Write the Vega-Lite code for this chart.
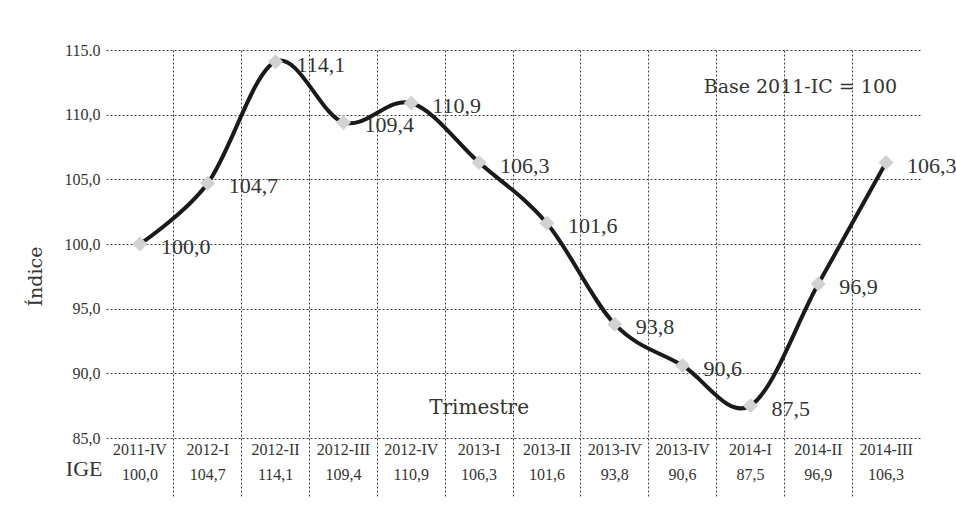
{
  "$schema": "https://vega.github.io/schema/vega-lite/v6.json",
  "width": 814,
  "height": 388,
  "autosize": {"type": "none"},
  "padding": {"left": 106, "top": 50, "right": 36, "bottom": 75},
  "background": "white",
  "config": {
    "view": {"stroke": null},
    "locale": {"number": {"decimal": ",", "thousands": ".", "grouping": [3], "currency": ["", " €"]}}
  },
  "data": {"values": [
    {"n": 1, "periodo": "2011-IV", "indice": 100.0},
    {"n": 2, "periodo": "2012-I", "indice": 104.7},
    {"n": 3, "periodo": "2012-II", "indice": 114.1},
    {"n": 4, "periodo": "2012-III", "indice": 109.4},
    {"n": 5, "periodo": "2012-IV", "indice": 110.9},
    {"n": 6, "periodo": "2013-I", "indice": 106.3},
    {"n": 7, "periodo": "2013-II", "indice": 101.6},
    {"n": 8, "periodo": "2013-IV", "indice": 93.8},
    {"n": 9, "periodo": "2013-IV", "indice": 90.6},
    {"n": 10, "periodo": "2014-I", "indice": 87.5},
    {"n": 11, "periodo": "2014-II", "indice": 96.9},
    {"n": 12, "periodo": "2014-III", "indice": 106.3}
  ]},
  "encoding": {
    "x": {
      "field": "n", "type": "ordinal",
      "scale": {"type": "band", "paddingInner": 0, "paddingOuter": 0},
      "axis": {
        "title": "IGE", "titleX": -4, "titleY": 30, "titleAlign": "right", "titleBaseline": "middle",
        "titleAngle": 0, "titleFont": "Liberation Serif", "titleFontSize": 22, "titleFontWeight": "normal", "titleColor": "#333333",
        "labels": false, "domain": false, "bandPosition": 0,
        "ticks": true, "tickSize": 60, "tickDash": [2, 2], "tickColor": "#444444", "tickWidth": 1,
        "tickOpacity": {"condition": {"test": "datum.index == 0", "value": 0}, "value": 1},
        "grid": true, "gridDash": [2, 2], "gridColor": "#444444", "gridWidth": 1,
        "gridOpacity": {"condition": {"test": "datum.index == 0", "value": 0}, "value": 1}
      }
    }
  },
  "layer": [
    {
      "mark": {"type": "line", "interpolate": "cardinal", "color": "#1a1a1a", "strokeWidth": 4},
      "encoding": {
        "y": {
          "field": "indice", "type": "quantitative",
          "scale": {"domain": [85, 115], "nice": false, "zero": false},
          "axis": {
            "values": [85, 90, 95, 100, 105, 110, 115],
            "labelExpr": "datum.value == 115 ? '115.0' : replace(format(datum.value, '.1f'), '.', ',')",
            "labelFont": "Liberation Serif", "labelFontSize": 16, "labelColor": "#333333", "labelPadding": 6,
            "ticks": false, "domain": false,
            "grid": true, "gridDash": [2, 2], "gridColor": "#444444", "gridWidth": 1,
            "title": "Índice", "titleFont": "DejaVu Serif", "titleFontSize": 19, "titleFontWeight": "normal",
            "titleColor": "#333333", "titleX": -71, "titleY": 226, "titleAngle": 270,
            "titleAlign": "center", "titleBaseline": "middle"
          }
        }
      }
    },
    {
      "mark": {"type": "point", "shape": "diamond", "filled": true, "size": 225, "color": "#d2d2d2", "opacity": 1},
      "encoding": {"y": {"field": "indice", "type": "quantitative"}}
    },
    {
      "mark": {"type": "text", "align": "left", "baseline": "middle", "dx": 21, "dy": 3, "font": "Liberation Serif", "fontSize": 22, "color": "#333333"},
      "encoding": {
        "y": {"field": "indice", "type": "quantitative"},
        "text": {"field": "indice", "type": "quantitative", "format": ".1f"}
      }
    },
    {
      "mark": {"type": "text", "align": "center", "baseline": "middle", "font": "Liberation Serif", "fontSize": 16, "color": "#333333"},
      "encoding": {
        "y": {"datum": 84.07, "type": "quantitative"},
        "text": {"field": "periodo", "type": "nominal"}
      }
    },
    {
      "mark": {"type": "text", "align": "center", "baseline": "middle", "font": "Liberation Serif", "fontSize": 16, "color": "#333333"},
      "encoding": {
        "y": {"datum": 82.14, "type": "quantitative"},
        "text": {"field": "indice", "type": "quantitative", "format": ".1f"}
      }
    },
    {
      "data": {"values": [{"texto": "Trimestre"}]},
      "mark": {"type": "text", "align": "center", "baseline": "middle", "font": "DejaVu Serif", "fontSize": 20, "color": "#333333"},
      "encoding": {
        "x": {"datum": 6, "type": "ordinal"},
        "y": {"datum": 87.31, "type": "quantitative"},
        "text": {"field": "texto", "type": "nominal"}
      }
    },
    {
      "data": {"values": [{"texto": "Base 2011-IC = 100"}]},
      "mark": {"type": "text", "align": "right", "baseline": "middle", "dx": 11, "font": "DejaVu Serif", "fontSize": 19, "color": "#333333"},
      "encoding": {
        "x": {"datum": 12, "type": "ordinal"},
        "y": {"datum": 112.14, "type": "quantitative"},
        "text": {"field": "texto", "type": "nominal"}
      }
    }
  ]
}
